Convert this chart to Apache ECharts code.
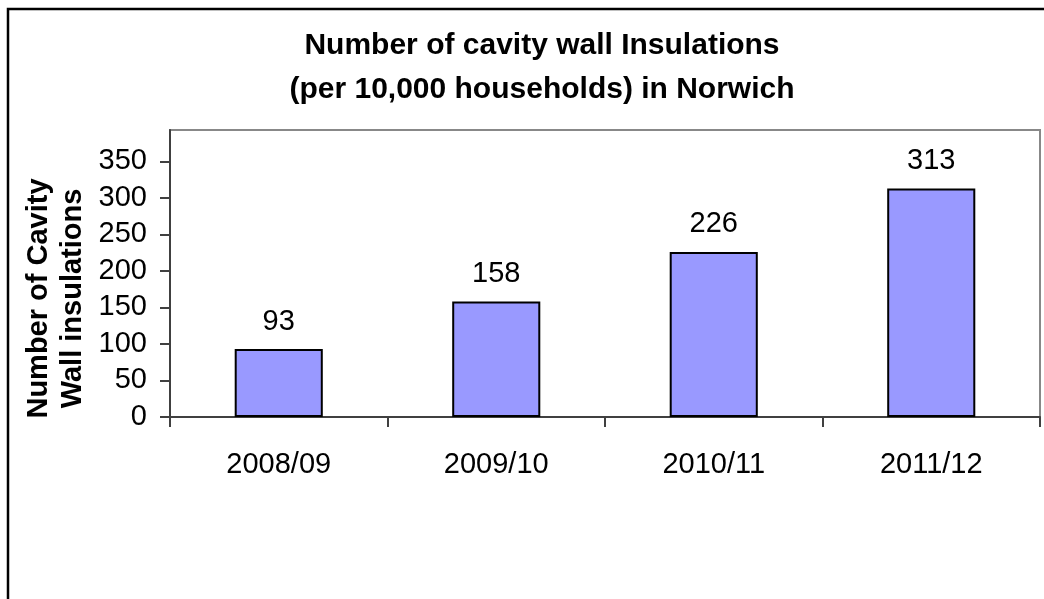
<!DOCTYPE html>
<html>
<head>
<meta charset="utf-8">
<script src="https://cdn.jsdelivr.net/npm/echarts@6/dist/echarts.min.js"></script>
<style>
  html, body { margin: 0; padding: 0; background: #fff; }
  #chart { width: 1044px; height: 599px; }
</style>
</head>
<body>
<div id="chart"></div>
<script>
    // data
    var years = ['2008/09', '2009/10', '2010/11', '2011/12'];
    var insulations = [93, 158, 226, 313];
    var yTicks = [0, 50, 100, 150, 200, 250, 300, 350];

    var font = '"Liberation Sans", Arial, sans-serif';
    var chart = echarts.init(document.getElementById('chart'), null, {renderer: 'canvas'});

    var option = {
        animation: false,
        backgroundColor: '#fff',
        title: {
            text: 'Number of cavity wall Insulations\n(per 10,000 households) in Norwich',
            left: 542,
            textAlign: 'center',
            top: 24,
            padding: 0,
            textStyle: {
                fontFamily: font,
                fontWeight: 'bold',
                fontSize: 30,
                lineHeight: 44,
                color: '#000'
            }
        },
        graphic: [
            {   // outer frame of the chart area
                type: 'rect',
                silent: true,
                shape: {x: 8, y: 9, width: 1200, height: 800},
                style: {fill: null, stroke: '#000', lineWidth: 2.5}
            }
        ],
        grid: {
            left: 170,
            right: 4,
            top: 130,
            bottom: 182,
            outerBoundsMode: 'none',
            containLabel: false,
            show: true,
            borderColor: '#888',
            borderWidth: 2,
            backgroundColor: '#fff'
        },
        xAxis: {
            type: 'category',
            data: years,
            axisLine: {lineStyle: {color: '#404040', width: 2}},
            axisTick: {show: true, length: 10, alignWithLabel: false, lineStyle: {color: '#404040', width: 2}},
            axisLabel: {
                margin: 33,
                color: '#000',
                fontFamily: font,
                fontSize: 29
            },
            splitLine: {show: false}
        },
        yAxis: {
            type: 'value',
            min: 0,
            max: 393,
            interval: 50,
            name: 'Number of Cavity\nWall insulations',
            nameLocation: 'middle',
            nameRotate: 90,
            nameGap: 80,
            nameMoveOverlap: false,
            nameTextStyle: {
                fontFamily: font,
                fontWeight: 'bold',
                fontSize: 29,
                lineHeight: 34,
                color: '#000',
                padding: [0, 50, 0, 0]
            },
            axisLine: {show: true, lineStyle: {color: '#404040', width: 2}},
            axisTick: {show: true, length: 10, customValues: yTicks, lineStyle: {color: '#404040', width: 2}},
            axisLabel: {
                customValues: yTicks,
                margin: 23,
                color: '#000',
                fontFamily: font,
                fontSize: 29
            },
            splitLine: {show: false}
        },
        series: [
            {
                type: 'bar',
                data: insulations,
                barWidth: '40.5%',
                itemStyle: {
                    color: '#9999FF',
                    borderColor: '#000',
                    borderWidth: 2
                },
                label: {
                    show: true,
                    position: 'top',
                    distance: 13,
                    color: '#000',
                    fontFamily: font,
                    fontSize: 29
                }
            }
        ]
    };
    chart.setOption(option);
</script>
</body>
</html>
